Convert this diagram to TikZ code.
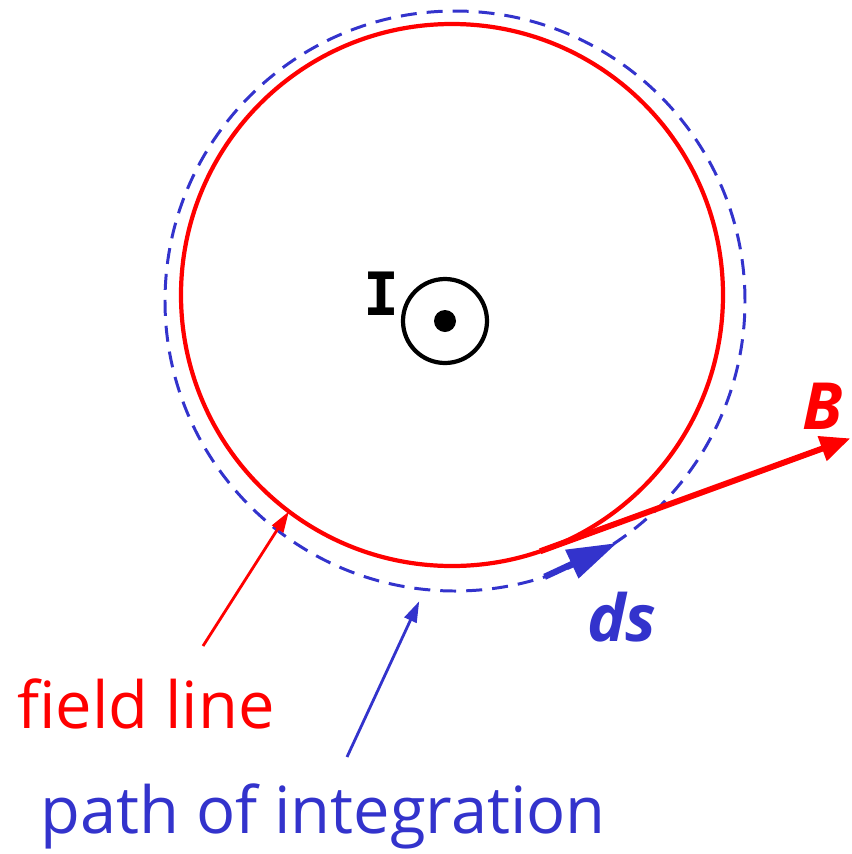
\documentclass[tikz,border=0pt]{standalone}
\usepackage{fontspec}
\setmainfont{Open Sans}
\newfontfamily\monofam{DejaVu Sans Mono}
\usetikzlibrary{arrows.meta}
\definecolor{fieldred}{RGB}{255,0,0}
\definecolor{pathblue}{RGB}{51,51,204}
\begin{document}
\begin{tikzpicture}[x=1cm,y=1cm]
\tikzset{
  fieldcircle/.style={circle,draw=fieldred,line width=2.4pt,inner sep=0pt,outer sep=0pt,minimum size=10.84cm},
  pathcircle/.style={circle,draw=pathblue,line width=1.7pt,dash pattern=on 0.32cm off 0.2cm,inner sep=0pt,outer sep=0pt,minimum size=11.6cm},
  wirecircle/.style={circle,draw,line width=2.4pt,inner sep=0pt,minimum size=1.68cm},
  wiredot/.style={circle,fill,inner sep=0pt,minimum size=0.44cm},
  biglabel/.style={font=\fontsize{37}{44}\selectfont,inner sep=0pt},
  vectorlabel/.style={font=\fontsize{37}{44}\selectfont\bfseries\itshape,inner sep=0pt},
  pointer/.style={-{Triangle[length=0.42cm,width=0.26cm]},line width=1.6pt},
  bvector/.style={-{Triangle[length=0.6cm,width=0.5cm]},line width=3.4pt,fieldred},
  dsvector/.style={-{Triangle[length=1.0cm,width=0.6cm]},line width=3.6pt,pathblue}
}
\useasboundingbox (0,0) rectangle (17.04,-17.08);
\node[pathcircle] (n_path) at (9.10,-6.02) {};
\node[fieldcircle] (n_field) at (9.04,-5.90) {};
\node[wirecircle] (n_wire) at (8.90,-6.42) {};
\node[wiredot] (n_dot) at (n_wire.center) {};
\node[inner sep=0pt,font=\monofam\bfseries\fontsize{34}{40}\selectfont] (n_I) at (7.62,-5.88) {I};
\node[vectorlabel,text=fieldred] (n_B) at (16.46,-8.12) {B};
\node[vectorlabel,text=pathblue] (n_ds) at (12.44,-12.34) {ds};
\node[biglabel,text=fieldred,anchor=base west] (n_fieldlabel) at (0.34,-14.56) {field line};
\node[biglabel,text=pathblue,anchor=base west] (n_pathlabel) at (0.80,-16.66) {path of integration};
\coordinate (c_fieldtail) at (4.06,-12.92);
\coordinate (c_pathtail) at (6.94,-15.14);
\path (n_field.289) coordinate (c_b_s) ++(20:6.6) coordinate (c_b_e);
\path (n_path.288) coordinate (c_ds_s) ++(25:1.6) coordinate (c_ds_e);
\draw[pointer,fieldred] (c_fieldtail) -- (n_field.233);
\draw[pointer,pathblue,shorten >=0.26cm] (c_pathtail) -- (n_path.264);
\draw[bvector] (c_b_s) -- (c_b_e);
\draw[dsvector] (c_ds_s) -- (c_ds_e);
\end{tikzpicture}
\end{document}
